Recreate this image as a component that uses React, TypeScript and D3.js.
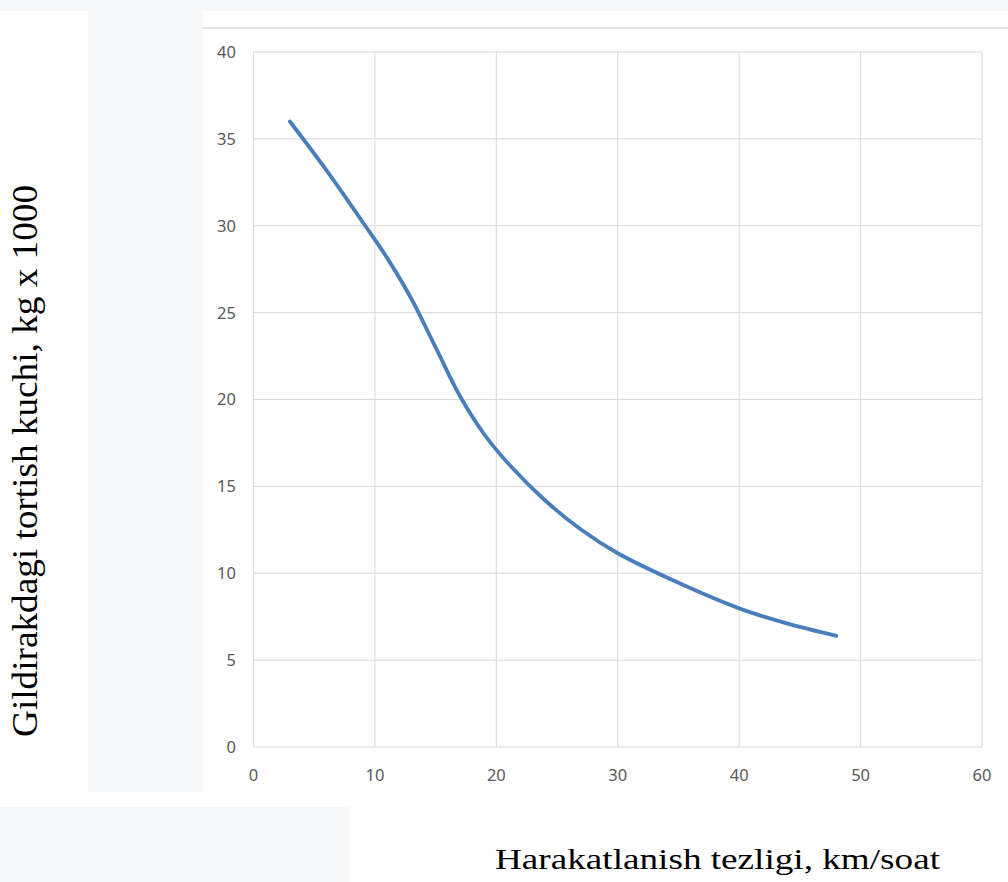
import * as d3 from "d3";
import { useEffect } from "react";

const W = 1008;
const H = 882;

const PLOT = { left: 253.5, right: 982, top: 52, bottom: 747 };

const speed = [3, 6, 9, 11, 13, 15, 17, 19, 21, 24, 27, 30, 35, 40, 44, 48];
const force = [36, 33.2, 30.2, 28.15, 25.8, 23.0, 20.2, 18.0, 16.3, 14.2, 12.5, 11.15, 9.45, 7.98, 7.1, 6.4];

const xTicks = [0, 10, 20, 30, 40, 50, 60];
const yTicks = [0, 5, 10, 15, 20, 25, 30, 35, 40];

const xTitle = "Harakatlanish tezligi, km/soat";
const yTitle = "Gildirakdagi tortish kuchi, kg x 1000";

const GRID = "#d9d9d9";
const BG = "#f7f8fa";

export default function App() {
  useEffect(() => {
    document.body.style.margin = "0";
  }, []);

  const x = d3.scaleLinear().domain([0, 60]).range([PLOT.left, PLOT.right]);
  const y = d3.scaleLinear().domain([0, 40]).range([PLOT.bottom, PLOT.top]);

  const pts = speed.map((s, i) => [s, force[i]] as [number, number]);
  const line = d3
    .line<[number, number]>()
    .x((d) => x(d[0]))
    .y((d) => y(d[1]))
    .curve(d3.curveCatmullRom.alpha(0.5));

  return (
    <svg width={W} height={H} style={{ display: "block" }}>
      <rect x={0} y={0} width={W} height={H} fill="#fff" />
      {/* page background patches */}
      <rect x={0} y={0} width={W} height={11} fill={BG} />
      <rect x={88} y={11} width={115} height={781} fill={BG} />
      <rect x={0} y={807} width={349} height={75} fill={BG} />
      <line x1={203} x2={W} y1={28} y2={28} stroke={GRID} strokeWidth={1.5} />

      {/* grid */}
      {yTicks.map((t) => (
        <line key={"gy" + t} x1={PLOT.left} x2={PLOT.right} y1={y(t)} y2={y(t)} stroke={GRID} strokeWidth={1} />
      ))}
      {xTicks.map((t) => (
        <line key={"gx" + t} x1={x(t)} x2={x(t)} y1={PLOT.top} y2={PLOT.bottom} stroke={GRID} strokeWidth={1} />
      ))}

      {/* tick labels */}
      {yTicks.map((t) => (
        <text
          key={"ly" + t}
          x={236}
          y={y(t)}
          dy="0.36em"
          textAnchor="end"
          fontFamily="'Noto Sans', sans-serif"
          fontSize={16.5}
          fill="#595959"
        >
          {t}
        </text>
      ))}
      {xTicks.map((t) => (
        <text
          key={"lx" + t}
          x={x(t)}
          y={775}
          dy="0.36em"
          textAnchor="middle"
          fontFamily="'Noto Sans', sans-serif"
          fontSize={16.5}
          fill="#595959"
        >
          {t}
        </text>
      ))}

      <path d={line(pts) ?? ""} fill="none" stroke="#4a7ebb" strokeWidth={3.8} strokeLinecap="round" />

      {/* axis titles */}
      <text
        x={495}
        y={869}
        fontFamily="'Liberation Serif', 'Times New Roman', serif"
        fontSize={30}
        textLength={445}
        lengthAdjust="spacingAndGlyphs"
        fill="#000"
      >
        {xTitle}
      </text>
      <text
        transform="translate(37,737) rotate(-90)"
        fontFamily="'Liberation Serif', 'Times New Roman', serif"
        fontSize={36}
        textLength={552}
        lengthAdjust="spacingAndGlyphs"
        fill="#000"
      >
        {yTitle}
      </text>
    </svg>
  );
}
